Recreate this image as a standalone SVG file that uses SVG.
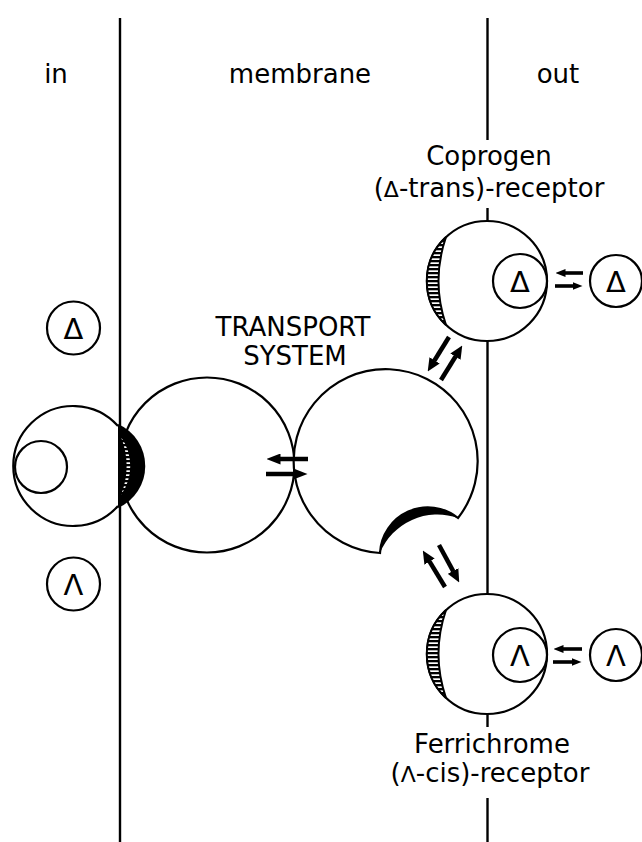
<svg xmlns="http://www.w3.org/2000/svg" width="642" height="842" viewBox="0 0 642 842">
<style>
.ln{stroke:#000;stroke-width:2.4;fill:none}
.c{stroke:#000;stroke-width:2.2;fill:#fff}
.t{font-family:"DejaVu Sans",sans-serif;font-size:26px;fill:#000}
.sym{font-family:"DejaVu Sans",sans-serif;font-size:29px;fill:#000;text-anchor:middle}
.ar{stroke:#000;stroke-width:3.6;fill:none}
.arL{stroke:#000;stroke-width:4.5;fill:none}
.ard{stroke:#000;stroke-width:4.5;fill:none}
</style>
<defs>
<marker id="ah" viewBox="0 0 10 8" refX="0.5" refY="4" markerWidth="10" markerHeight="8" markerUnits="userSpaceOnUse" orient="auto"><path d="M0,0 L10,4 L0,8 z" fill="#000"/></marker>
<marker id="ahL" viewBox="0 0 14 11" refX="0.5" refY="5.5" markerWidth="14" markerHeight="11" markerUnits="userSpaceOnUse" orient="auto"><path d="M0,0 L14,5.5 L0,11 z" fill="#000"/></marker>
<marker id="ahD" viewBox="0 0 13 12" refX="0.5" refY="6" markerWidth="13" markerHeight="12" markerUnits="userSpaceOnUse" orient="auto"><path d="M0,0 L13,6 L0,12 z" fill="#000"/></marker>
<pattern id="hatch" width="6" height="4" patternUnits="userSpaceOnUse"><rect width="6" height="4" fill="#fff"/><rect width="6" height="2.3" fill="#000"/></pattern>
</defs>
<rect width="642" height="842" fill="#fff"/>

<g id="membrane-lines">
<line class="ln" x1="120" y1="18" x2="120" y2="842"/>
<line class="ln" x1="487.5" y1="18" x2="487.5" y2="140"/>
<line class="ln" x1="487.5" y1="208" x2="487.5" y2="221"/>
<line class="ln" x1="487.5" y1="341" x2="487.5" y2="595"/>
<line class="ln" x1="487.5" y1="713" x2="487.5" y2="727"/>
<line class="ln" x1="487.5" y1="798" x2="487.5" y2="842"/>
</g>

<g id="headers">
<text class="t" x="56" y="83" text-anchor="middle">in</text>
<text class="t" x="300" y="83" text-anchor="middle">membrane</text>
<text class="t" x="558" y="83" text-anchor="middle">out</text>
</g>

<g id="transport-system">
<circle class="c" cx="207" cy="465" r="87.5"/>
<path class="c" d="M458 518 A92 92 0 1 0 380 553 A48 48 0 0 1 458 518 Z"/>
<path d="M380 553 A48 48 0 0 1 458 518 A62 62 0 0 0 380 553 Z" fill="#000"/>
<text class="t" x="293" y="336" text-anchor="middle">TRANSPORT</text>
<text class="t" x="295" y="365" text-anchor="middle">SYSTEM</text>
</g>

<g id="in-receptor">
<path class="c" d="M118 426 A60 60 0 1 0 118 506"/>
<circle class="c" cx="41" cy="467" r="26"/>
<path d="M118 424 A46 46 0 0 1 118 508 Z" fill="#000"/>
<path d="M121 437 A50 50 0 0 1 121 495 A80 80 0 0 0 121 437 Z" fill="url(#hatch)"/>
</g>

<g id="in-delta">
<circle class="c" cx="73.5" cy="328" r="26.5"/>
<text class="sym" x="73.5" y="339">Δ</text>
</g>

<g id="in-lambda">
<circle class="c" cx="73.5" cy="584" r="26.5"/>
<text class="sym" x="73.5" y="595">Λ</text>
</g>

<g id="coprogen-receptor">
<circle class="c" cx="487" cy="281" r="60"/>
<path d="M446 237 A60 60 0 0 0 446 325 A136 136 0 0 1 446 237 Z" fill="url(#hatch)" stroke="#000" stroke-width="2"/>
<circle class="c" cx="520" cy="281" r="27"/>
<text class="sym" x="520" y="292">Δ</text>
<text class="t" x="489" y="165" text-anchor="middle">Coprogen</text>
<text class="t" x="489" y="197" text-anchor="middle">(<tspan font-size="22">Δ</tspan>-trans)-receptor</text>
</g>

<g id="coprogen-free">
<circle class="c" cx="616" cy="281" r="26"/>
<text class="sym" x="616" y="292">Δ</text>
</g>

<g id="ferrichrome-receptor">
<circle class="c" cx="487" cy="654" r="60"/>
<path d="M446 610 A60 60 0 0 0 446 698 A136 136 0 0 1 446 610 Z" fill="url(#hatch)" stroke="#000" stroke-width="2"/>
<circle class="c" cx="520" cy="655" r="27"/>
<text class="sym" x="520" y="666">Λ</text>
<text class="t" x="492" y="753" text-anchor="middle">Ferrichrome</text>
<text class="t" x="490" y="782" text-anchor="middle">(<tspan font-size="22">Λ</tspan>-cis)-receptor</text>
</g>

<g id="ferrichrome-free">
<circle class="c" cx="616" cy="655" r="26"/>
<text class="sym" x="616" y="666">Λ</text>
</g>

<g id="connectors">
<line class="arL" x1="308" y1="459" x2="280" y2="459" marker-end="url(#ahL)"/>
<line class="arL" x1="266" y1="474" x2="294" y2="474" marker-end="url(#ahL)"/>
<line class="ar" x1="583" y1="273" x2="565" y2="273" marker-end="url(#ah)"/>
<line class="ar" x1="555" y1="286" x2="573" y2="286" marker-end="url(#ah)"/>
<line class="ar" x1="582" y1="649" x2="563" y2="649" marker-end="url(#ah)"/>
<line class="ar" x1="553" y1="662" x2="572" y2="662" marker-end="url(#ah)"/>
<line class="ard" x1="449" y1="337" x2="434.3" y2="360.8" marker-end="url(#ahD)"/>
<line class="ard" x1="441" y1="380" x2="455.7" y2="356.2" marker-end="url(#ahD)"/>
<line class="ard" x1="445" y1="587" x2="429.3" y2="561.2" marker-end="url(#ahD)"/>
<line class="ard" x1="439" y1="545" x2="453.3" y2="571.4" marker-end="url(#ahD)"/>
</g>
</svg>
